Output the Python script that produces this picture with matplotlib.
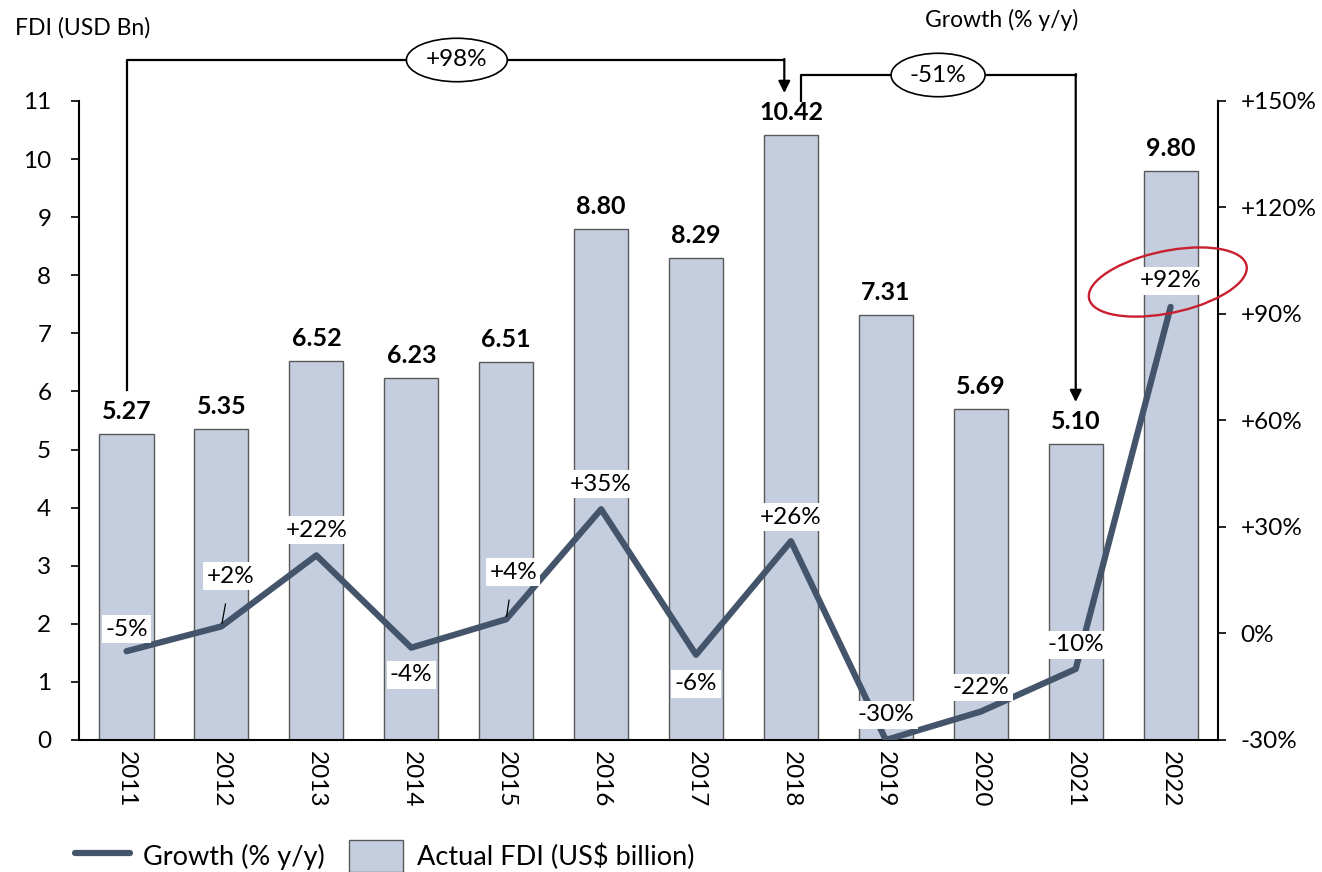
import numpy as np
import matplotlib.pyplot as plt
from matplotlib.patches import Ellipse
from matplotlib.transforms import blended_transform_factory

plt.rcParams['font.family'] = ['Lato', 'DejaVu Sans']

years = ['2011', '2012', '2013', '2014', '2015', '2016',
         '2017', '2018', '2019', '2020', '2021', '2022']
fdi = [5.27, 5.35, 6.52, 6.23, 6.51, 8.80, 8.29, 10.42, 7.31, 5.69, 5.10, 9.80]
growth = [-5, 2, 22, -4, 4, 35, -6, 26, -30, -22, -10, 92]

# label offsets (pixels) for the growth labels
growth_offsets = [(0, 22), (9, 50), (0, 25), (0, -27), (7, 47), (0, 25),
                  (0, -29), (0, 24), (0, 25), (0, 24), (0, 24), (0, 26)]
leader = [False, True, False, False, True, False,
          False, False, False, False, False, False]

bar_color = '#C4CEDF'
line_color = '#44546A'

fig = plt.figure(figsize=(13.22, 8.72), dpi=100)
ax = fig.add_axes([0.0598, 0.1514, 0.8616, 0.7328])
ax2 = ax.twinx()

x = np.arange(len(years))
bars = ax.bar(x, fdi, width=0.57, color=bar_color, edgecolor='#595959',
              linewidth=1.0, label='Actual FDI (US$ billion)', zorder=2)
for xi, v in zip(x, fdi):
    ax.annotate(f'{v:.2f}', (xi, v), xytext=(0, 11), textcoords='offset pixels',
                ha='center', va='bottom', fontsize=18, fontweight='bold')

ax.set_xlim(-0.5, len(years) - 0.5)
ax.set_ylim(0, 11)
ax.set_yticks(range(0, 12))
ax.set_xticks(x)
ax.set_xticklabels(years, rotation=-90, fontsize=17.5)
ax.tick_params(axis='x', length=0, pad=8)
ax.tick_params(axis='y', labelsize=17.5, length=6, width=1.2, direction='out', pad=14)
for s in ['top', 'right']:
    ax.spines[s].set_visible(False)
ax.spines['left'].set_linewidth(1.5)
ax.spines['bottom'].set_linewidth(1.5)

line, = ax2.plot(x, growth, color=line_color, lw=4.5,
                 solid_capstyle='round', label='Growth (% y/y)', zorder=3)
ax2.set_ylim(-30, 150)
ax2.set_yticks(range(-30, 151, 30))
ax2.set_yticklabels([f'+{t}%' if t > 0 else f'{t}%' for t in range(-30, 151, 30)])
ax2.tick_params(axis='y', labelsize=17.5, length=6, width=1.2, direction='out', pad=10)
for s in ['top', 'left', 'bottom']:
    ax2.spines[s].set_visible(False)
ax2.spines['right'].set_linewidth(1.5)

for xi, g, off, ld in zip(x, growth, growth_offsets, leader):
    txt = f'+{g}%' if g > 0 else f'{g}%'
    ax2.annotate(txt, (xi, g), xytext=off, textcoords='offset pixels',
                 ha='center', va='center', fontsize=17.5, zorder=5,
                 bbox=dict(boxstyle='square,pad=0.14', fc='white', ec='none'),
                 arrowprops=dict(arrowstyle='-', lw=0.9, color='black',
                                 shrinkA=10, shrinkB=2) if ld else None)

# hand-drawn highlight around the 2022 growth label
ax2.add_patch(Ellipse((10.97, 99), 1.52, 19.5, angle=-2, fill=False,
                      ec='#C8202F', lw=1.7, zorder=6, clip_on=False))

# brackets showing the change between years
tr = blended_transform_factory(ax.transData, fig.transFigure)
def fy(py):
    return 1 - py / 872

ax.plot([0, 0, 6.93], [fy(390), fy(60), fy(60)], transform=tr,
        color='black', lw=1.6, clip_on=False)
ax.annotate('', xy=(6.93, fy(93)), xytext=(6.93, fy(59)), xycoords=tr, textcoords=tr,
            arrowprops=dict(arrowstyle='-|>,head_width=0.35,head_length=0.7',
                            lw=1.6, color='black', shrinkA=0, shrinkB=0))
ax.text(3.48, fy(60), '+98%', transform=tr, ha='center', va='center', fontsize=17.5,
        bbox=dict(boxstyle='ellipse,pad=0.2', fc='white', ec='black', lw=1.2))

ax.plot([7.11, 7.11, 10.0], [fy(101), fy(75), fy(75)], transform=tr,
        color='black', lw=1.6, clip_on=False)
ax.annotate('', xy=(10.0, fy(402)), xytext=(10.0, fy(74)), xycoords=tr, textcoords=tr,
            arrowprops=dict(arrowstyle='-|>,head_width=0.35,head_length=0.7',
                            lw=1.6, color='black', shrinkA=0, shrinkB=0))
ax.text(8.55, fy(75), '-51%', transform=tr, ha='center', va='center', fontsize=17.5,
        bbox=dict(boxstyle='ellipse,pad=0.2', fc='white', ec='black', lw=1.2))

fig.text(0.011, fy(28), 'FDI (USD Bn)', ha='left', va='center', fontsize=16.5)
fig.text(0.758, fy(20), 'Growth (% y/y)', ha='center', va='center', fontsize=16.5)

fig.legend(handles=[line, bars], loc='center left', bbox_to_anchor=(0.057, fy(856)),
           ncol=2, frameon=False, fontsize=19.5, handlelength=2.0,
           handleheight=1.4, columnspacing=0.9, handletextpad=0.5,
           borderaxespad=0, borderpad=0)

fig.savefig('out.png', dpi=100)
